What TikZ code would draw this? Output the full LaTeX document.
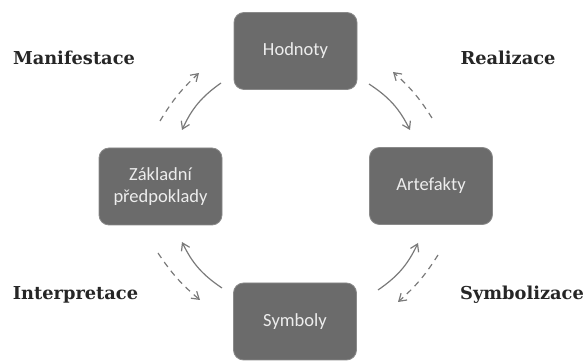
\documentclass[tikz,border=0pt]{standalone}
\usepackage{fontspec}
\setmainfont{DejaVu Serif}
\newfontfamily\boxfont{Carlito}
\usetikzlibrary{arrows.meta}
\definecolor{boxgrey}{HTML}{6B6B6B}
\definecolor{boxedge}{HTML}{8A8A8A}
\definecolor{arrowgrey}{HTML}{7A7A7A}
\definecolor{boxtext}{HTML}{EDEDED}
\tikzset{
  concept/.style={draw=boxedge, line width=0.8pt, fill=boxgrey, rounded corners=10pt,
    minimum width=123pt, minimum height=77pt, inner sep=0pt, align=center,
    text=boxtext, font=\boxfont\fontsize{18.5}{22}\selectfont},
  phase/.style={font=\bfseries\fontsize{17.8}{20}\selectfont, text=black!85, inner sep=0pt},
  flow/.style={draw=arrowgrey, line width=1.2pt, -{Straight Barb[length=7pt,width=9pt]}},
  backflow/.style={flow, dash pattern=on 6pt off 5pt}
}
\begin{document}
\begin{tikzpicture}[x=1pt,y=-1pt]
\useasboundingbox (0,0) rectangle (587,363);
\node[concept] (hod) at (295.5,51) {Hodnoty};
\node[concept] (zak) at (160.5,186.5) {Základní\\předpoklady};
\node[concept] (art) at (431,186) {Artefakty};
\node[concept] (sym) at (295,321.5) {Symboly};
\node[phase] (man) at (74,58) {Manifestace};
\node[phase] (rea) at (508,58) {Realizace};
\node[phase] (int) at (75.5,295) {Interpretace};
\node[phase] (syz) at (522,295) {Symbolizace};
% arrow end points
\coordinate (tls1) at (221,83);  \coordinate (tle1) at (182,130);
\coordinate (tls2) at (160,121); \coordinate (tle2) at (199,73);
\coordinate (trs1) at (369,84);  \coordinate (tre1) at (410,130);
\coordinate (trs2) at (432,118); \coordinate (tre2) at (393,72);
\coordinate (bls1) at (222,288); \coordinate (ble1) at (182,242);
\coordinate (bls2) at (158,253); \coordinate (ble2) at (200,300);
\coordinate (brs1) at (378,290); \coordinate (bre1) at (418,243);
\coordinate (brs2) at (438,255); \coordinate (bre2) at (398,302);
\draw[flow] (tls1) to[bend right=15] (tle1);
\draw[backflow] (tls2) to[bend left=8] (tle2);
\draw[flow] (trs1) to[bend left=15] (tre1);
\draw[backflow] (trs2) to[bend right=8] (tre2);
\draw[flow] (bls1) to[bend left=15] (ble1);
\draw[backflow] (bls2) to[bend right=8] (ble2);
\draw[flow] (brs1) to[bend right=15] (bre1);
\draw[backflow] (brs2) to[bend left=8] (bre2);
\end{tikzpicture}
\end{document}
